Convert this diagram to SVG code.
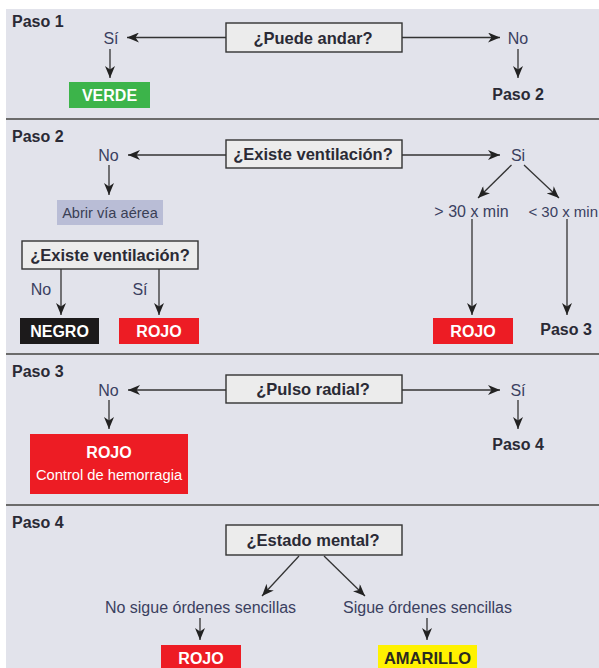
<svg xmlns="http://www.w3.org/2000/svg" width="599" height="668" viewBox="0 0 599 668">
<defs>
<style>
.bg{fill:#e2e3eb}
.div{stroke:#6b6b6b;stroke-width:2.2}
.q{fill:#ececec;stroke:#333;stroke-width:1.4}
.qt{font-family:"Liberation Sans",Arial,sans-serif;font-weight:bold;font-size:16.5px;fill:#2a2a35;text-anchor:middle}
.step{font-family:"Liberation Sans",Arial,sans-serif;font-weight:bold;font-size:16px;fill:#2a2a35}
.stepc{font-family:"Liberation Sans",Arial,sans-serif;font-weight:bold;font-size:16px;fill:#2a2a35;text-anchor:middle}
.lab{font-family:"Liberation Sans",Arial,sans-serif;font-size:16px;fill:#3a4060;text-anchor:middle}
.wt{font-family:"Liberation Sans",Arial,sans-serif;font-weight:bold;font-size:16px;fill:#fff;text-anchor:middle}
.c line{stroke:#333;stroke-width:1.3;marker-end:url(#ah)}
</style>
<marker id="ah" markerUnits="userSpaceOnUse" markerWidth="12" markerHeight="10" refX="12" refY="5" orient="auto">
<path d="M0,0 L12,5 L0,10 L3.5,5 z" fill="#222"/>
</marker>
</defs>
<rect class="bg" x="6" y="9" width="593" height="659"/>
<line class="div" x1="6" y1="119" x2="599" y2="119"/>
<line class="div" x1="6" y1="354" x2="599" y2="354"/>
<line class="div" x1="6" y1="505" x2="599" y2="505"/>

<g id="connectors" class="c">
<line x1="226" y1="37.5" x2="127" y2="37.5"/>
<line x1="110" y1="49" x2="110" y2="78"/>
<line x1="402" y1="37.5" x2="500" y2="37.5"/>
<line x1="518" y1="49" x2="518" y2="78"/>

<line x1="226" y1="155" x2="128" y2="155"/>
<line x1="109" y1="165" x2="109" y2="195"/>
<line x1="61" y1="269" x2="61" y2="315"/>
<line x1="159" y1="269" x2="159" y2="315"/>
<line x1="402" y1="155" x2="500" y2="155"/>
<line x1="511.5" y1="165" x2="478" y2="198"/>
<line x1="524" y1="165" x2="559" y2="198"/>
<line x1="472" y1="219" x2="472" y2="315"/>
<line x1="567" y1="219" x2="567" y2="315"/>

<line x1="226" y1="390" x2="128" y2="390"/>
<line x1="109" y1="400" x2="109" y2="429"/>
<line x1="402" y1="390" x2="500" y2="390"/>
<line x1="518" y1="400" x2="518" y2="429"/>

<line x1="299" y1="556" x2="262" y2="596"/>
<line x1="324" y1="556" x2="365" y2="596"/>
<line x1="200" y1="618" x2="200" y2="640"/>
<line x1="427" y1="618" x2="427" y2="640"/>
</g>

<g id="paso1">
<text class="step" x="12" y="26.5">Paso 1</text>
<g id="q1"><rect class="q" x="226" y="23" width="176" height="29"/><text class="qt" x="313" y="43.5">¿Puede andar?</text></g>
<text id="si1" class="lab" x="111" y="44">Sí</text>
<text id="no1" class="lab" x="518" y="44">No</text>
<g id="verde"><rect x="69" y="82" width="81" height="26" fill="#3cb44a"/><text class="wt" x="109.5" y="101">VERDE</text></g>
<text id="paso2ref" class="stepc" x="518" y="100">Paso 2</text>
</g>

<g id="paso2">
<text class="step" x="12" y="142">Paso 2</text>
<g id="q2"><rect class="q" x="226" y="140" width="176" height="28"/><text class="qt" x="313" y="160">¿Existe ventilación?</text></g>
<text id="no2" class="lab" x="108.5" y="161">No</text>
<g id="abrir"><rect x="57" y="200" width="106" height="25" fill="#b9bdd6"/><text class="lab" style="font-size:14.6px;fill:#3a3f55" x="110" y="218">Abrir vía aérea</text></g>
<g id="q3"><rect class="q" x="22" y="241" width="176" height="28"/><text class="qt" x="110" y="261">¿Existe ventilación?</text></g>
<text id="no3" class="lab" x="41" y="295">No</text>
<text id="si3" class="lab" x="140" y="295">Sí</text>
<g id="negro"><rect x="20" y="318" width="79" height="26" fill="#1c1a1b"/><text class="wt" x="59.5" y="337">NEGRO</text></g>
<g id="rojo1"><rect x="119" y="318" width="80" height="26" fill="#ed1c24"/><text class="wt" x="159" y="337">ROJO</text></g>
<text id="si2" class="lab" x="518" y="161">Si</text>
<text id="gt30" class="lab" x="471.5" y="217">&gt; 30 x min</text>
<text id="lt30" class="lab" style="font-size:15px;text-anchor:end" x="598" y="217">&lt; 30 x min</text>
<g id="rojo2"><rect x="433" y="318" width="80" height="26" fill="#ed1c24"/><text class="wt" x="473" y="337">ROJO</text></g>
<text id="paso3ref" class="stepc" x="566" y="335">Paso 3</text>
</g>

<g id="paso3">
<text class="step" x="12" y="377">Paso 3</text>
<g id="q4"><rect class="q" x="226" y="375" width="176" height="28"/><text class="qt" x="313" y="395">¿Pulso radial?</text></g>
<text id="no4" class="lab" x="108.5" y="396">No</text>
<g id="rojo3"><rect x="30" y="434" width="158" height="60" fill="#ed1c24"/><text class="wt" x="109" y="458">ROJO</text><text class="lab" style="fill:#fff;font-size:14.7px" x="109" y="480">Control de hemorragia</text></g>
<text id="si4" class="lab" x="518" y="396">Sí</text>
<text id="paso4ref" class="stepc" x="518" y="450">Paso 4</text>
</g>

<g id="paso4">
<text class="step" x="12" y="528">Paso 4</text>
<g id="q5"><rect class="q" x="226" y="525" width="176" height="30"/><text class="qt" x="313" y="546">¿Estado mental?</text></g>
<text id="nosigue" class="lab" x="200.5" y="613">No sigue órdenes sencillas</text>
<text id="sigue" class="lab" x="427.5" y="613">Sigue órdenes sencillas</text>
<g id="rojo4"><rect x="161" y="645" width="80" height="30" fill="#ed1c24"/><text class="wt" x="201" y="664">ROJO</text></g>
<g id="amarillo"><rect x="378" y="645" width="99" height="30" fill="#fff200"/><text class="wt" style="fill:#2a2a20;font-size:16.5px" x="427.5" y="664">AMARILLO</text></g>
</g>
</svg>
